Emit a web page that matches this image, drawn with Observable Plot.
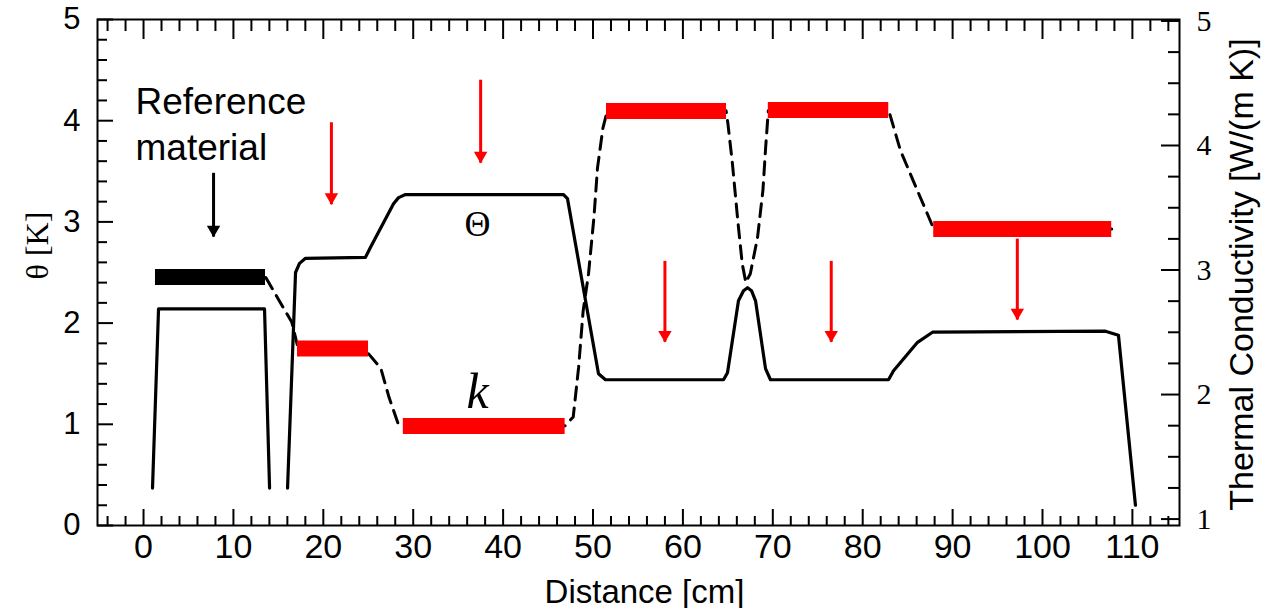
<!DOCTYPE html>
<html>
<head>
<meta charset="utf-8">
<script src="https://cdn.jsdelivr.net/npm/d3@7"></script>
<script src="https://cdn.jsdelivr.net/npm/@observablehq/plot@0.6"></script>
<style>
  html, body { margin: 0; padding: 0; background: #fff; }
</style>
</head>
<body>
<div id="chart"></div>
<script>
// ---- Temperature profile Θ (left axis, K) ----
const thetaSeg  = [0,0,0,0, 1,1,1,1,1,1,1,1,1,1,1,1,1,1,1,1,1,1,1,1,1,1,1,1,1,1,1,1,1];
const thetaDist = [1.0,1.67,13.46,14.02, 16.02,16.91,17.35,18.02,24.69,25.25,27.81,28.37,29.14,46.72,47.16,50.61,51.39,64.52,64.96,66.18,66.74,67.19,67.63,68.08,69.19,69.74,82.87,83.43,86.10,87.76,107.0,108.45,110.34];
const thetaVal  = [0.37,2.14,2.14,0.37, 0.37,2.50,2.59,2.64,2.65,2.75,3.18,3.24,3.27,3.27,3.23,1.50,1.44,1.44,1.51,2.22,2.32,2.35,2.32,2.22,1.55,1.44,1.44,1.53,1.81,1.91,1.92,1.88,0.20];

// ---- Thermal conductivity profile k (right axis, W/(m K)), dashed ----
const kDist = [13.6,16.5,17.1,25.0,26.4,27.3,28.3,29.1,46.9,47.8,48.4,48.9,49.5,50.1,50.5,51.1,51.6,64.8,65.0,65.5,66.1,66.6,67.0,67.5,68.3,68.9,69.2,69.5,82.9,84.2,85.6,87.2,87.9,107.7];
const kVal  = [2.94,2.58,2.40,2.33,2.21,1.98,1.77,1.75,1.75,1.82,2.22,2.67,2.97,3.42,3.82,4.14,4.28,4.28,4.18,3.86,3.40,3.05,2.90,2.97,3.26,3.64,3.98,4.28,4.28,3.96,3.72,3.45,3.33,3.33];

// ---- Material layers (bars of constant k) ----
const barStart = [1.33, 17.13, 28.9, 51.5, 69.5, 87.9];
const barEnd   = [13.57, 25.03, 46.9, 64.85, 82.9, 107.7];
const barK     = [2.944, 2.37, 1.747, 4.277, 4.285, 3.33];
const barColor = ["black", "red", "red", "red", "red", "red"];

// ---- Arrows ----
const arrowDist  = [7.79, 20.9, 37.5, 58.0, 76.5, 97.2];
const arrowTop   = [3.48, 3.98, 4.40, 2.61, 2.61, 2.83];
const arrowTip   = [2.85, 3.17, 3.58, 1.81, 1.81, 2.03];
const arrowColor = ["black", "red", "red", "red", "red", "red"];

// ---- Ticks ----
const xMajor = d3.range(0, 111, 10);
const xMinor = d3.range(-4, 115, 2).filter(d => d % 10 !== 0);
const yMajor = [0, 1, 2, 3, 4, 5];
const yMinor = d3.range(1, 25).map(i => i / 5).filter(d => !Number.isInteger(d));
const kMajor = [1, 2, 3, 4, 5];
const kMinor = d3.range(4, 20).map(i => i / 4).filter(d => !Number.isInteger(d));

// map k (right axis) onto the θ scale
const toTheta = k => (k - 0.9484) * 1.2305;

const W = 1272, H = 608;
const mL = 97, mR = 93, mT = 19, mB = 83;
const FW = W - mL - mR, FH = H - mT - mB;

const thetaRows = thetaDist.map((d, i) => ({d, v: thetaVal[i], s: thetaSeg[i]}));
const kRows = kDist.map((d, i) => ({d, v: toTheta(kVal[i])}));
const bars = barStart.map((s, i) => ({x1: s, x2: barEnd[i], y: toTheta(barK[i]), c: barColor[i]}));
const arrows = arrowDist.map((d, i) => ({d, t: arrowTop[i], p: arrowTip[i], c: arrowColor[i]}));

const plot = Plot.plot({
  width: W, height: H,
  marginLeft: mL, marginRight: mR, marginTop: mT, marginBottom: mB,
  x: {domain: [-5.12, 115.24], axis: null},
  y: {domain: [0, 5], axis: null},
  color: {type: "identity"},
  style: {fontFamily: "Liberation Sans", background: "white", color: "black", overflow: "visible"},
  marks: [
    // inward tick marks
    Plot.tickX(xMajor, {x: d => d, insetTop: FH - 16, strokeWidth: 2}),
    Plot.tickX(xMinor, {x: d => d, insetTop: FH - 9, strokeWidth: 2}),
    Plot.tickX(xMajor, {x: d => d, insetBottom: FH - 20, strokeWidth: 2}),
    Plot.tickX(xMinor, {x: d => d, insetBottom: FH - 12, strokeWidth: 2}),
    Plot.tickY(yMajor, {y: d => d, insetRight: FW - 16, strokeWidth: 2}),
    Plot.tickY(yMinor, {y: d => d, insetRight: FW - 10, strokeWidth: 2}),
    Plot.tickY(kMajor, {y: d => toTheta(d), insetLeft: FW - 18, strokeWidth: 2}),
    Plot.tickY(kMinor, {y: d => toTheta(d), insetLeft: FW - 11, strokeWidth: 2}),
    Plot.frame({strokeWidth: 2}),

    // tick labels
    Plot.text(xMajor, {x: d => d, text: d => String(d), frameAnchor: "bottom", textAnchor: "middle",
                       lineAnchor: "top", dy: 8, fontSize: 34}),
    Plot.text(yMajor, {y: d => d, text: d => String(d), frameAnchor: "left", textAnchor: "end",
                       lineAnchor: "middle", dx: -17, fontSize: 31}),
    Plot.text(kMajor, {y: d => toTheta(d), text: d => String(d), frameAnchor: "right", textAnchor: "start",
                       lineAnchor: "middle", dx: 17, fontSize: 30, fontFamily: "Liberation Serif"}),

    // k dashed profile
    Plot.line(kRows, {x: "d", y: "v", stroke: "black", strokeWidth: 3, strokeDasharray: "13,8"}),
    // material bars
    Plot.ruleY(bars, {y: "y", x1: "x1", x2: "x2", stroke: "c", strokeWidth: 16}),
    // Θ profile
    Plot.line(thetaRows, {x: "d", y: "v", z: "s", stroke: "black", strokeWidth: 3.2, strokeLinejoin: "round"}),

    // arrows
    Plot.ruleX(arrows, {x: "d", y1: "t", y2: "p", stroke: "c", strokeWidth: 3}),
    Plot.dot(arrows, {x: "d", y: "p", fill: "c", symbol: "triangle", rotate: 180, r: 5, dy: -7.5}),

    // annotations
    Plot.text(["Reference\nmaterial"], {x: -0.89, y: 4.39, text: d => d, textAnchor: "start", lineAnchor: "top",
                                        fontSize: 37, lineHeight: 1.24}),
    Plot.text(["Θ"], {x: 37.15, y: 2.97, text: d => d, lineAnchor: "middle", fontFamily: "Liberation Serif", fontSize: 36}),
    Plot.text(["k"], {x: 37.15, y: 1.318, text: d => d, lineAnchor: "middle", fontFamily: "Liberation Serif",
                      fontStyle: "italic", fontSize: 50}),

    // axis titles
    Plot.text(["Distance [cm]"], {frameAnchor: "bottom", textAnchor: "middle", lineAnchor: "middle",
                                  dx: 6, dy: 67, text: d => d, fontSize: 33}),
    Plot.text(["θ [K]"], {frameAnchor: "left", textAnchor: "middle", lineAnchor: "middle",
                          dx: -60, dy: -27, rotate: -90, text: d => d, fontFamily: "Liberation Serif", fontSize: 32}),
    Plot.text(["Thermal Conductivity [W/(m K)]"], {frameAnchor: "right", textAnchor: "middle", lineAnchor: "middle",
                          dx: 63, dy: 2, rotate: -90, text: d => d, fontSize: 34})
  ]
});

document.getElementById("chart").appendChild(plot);
</script>
</body>
</html>
